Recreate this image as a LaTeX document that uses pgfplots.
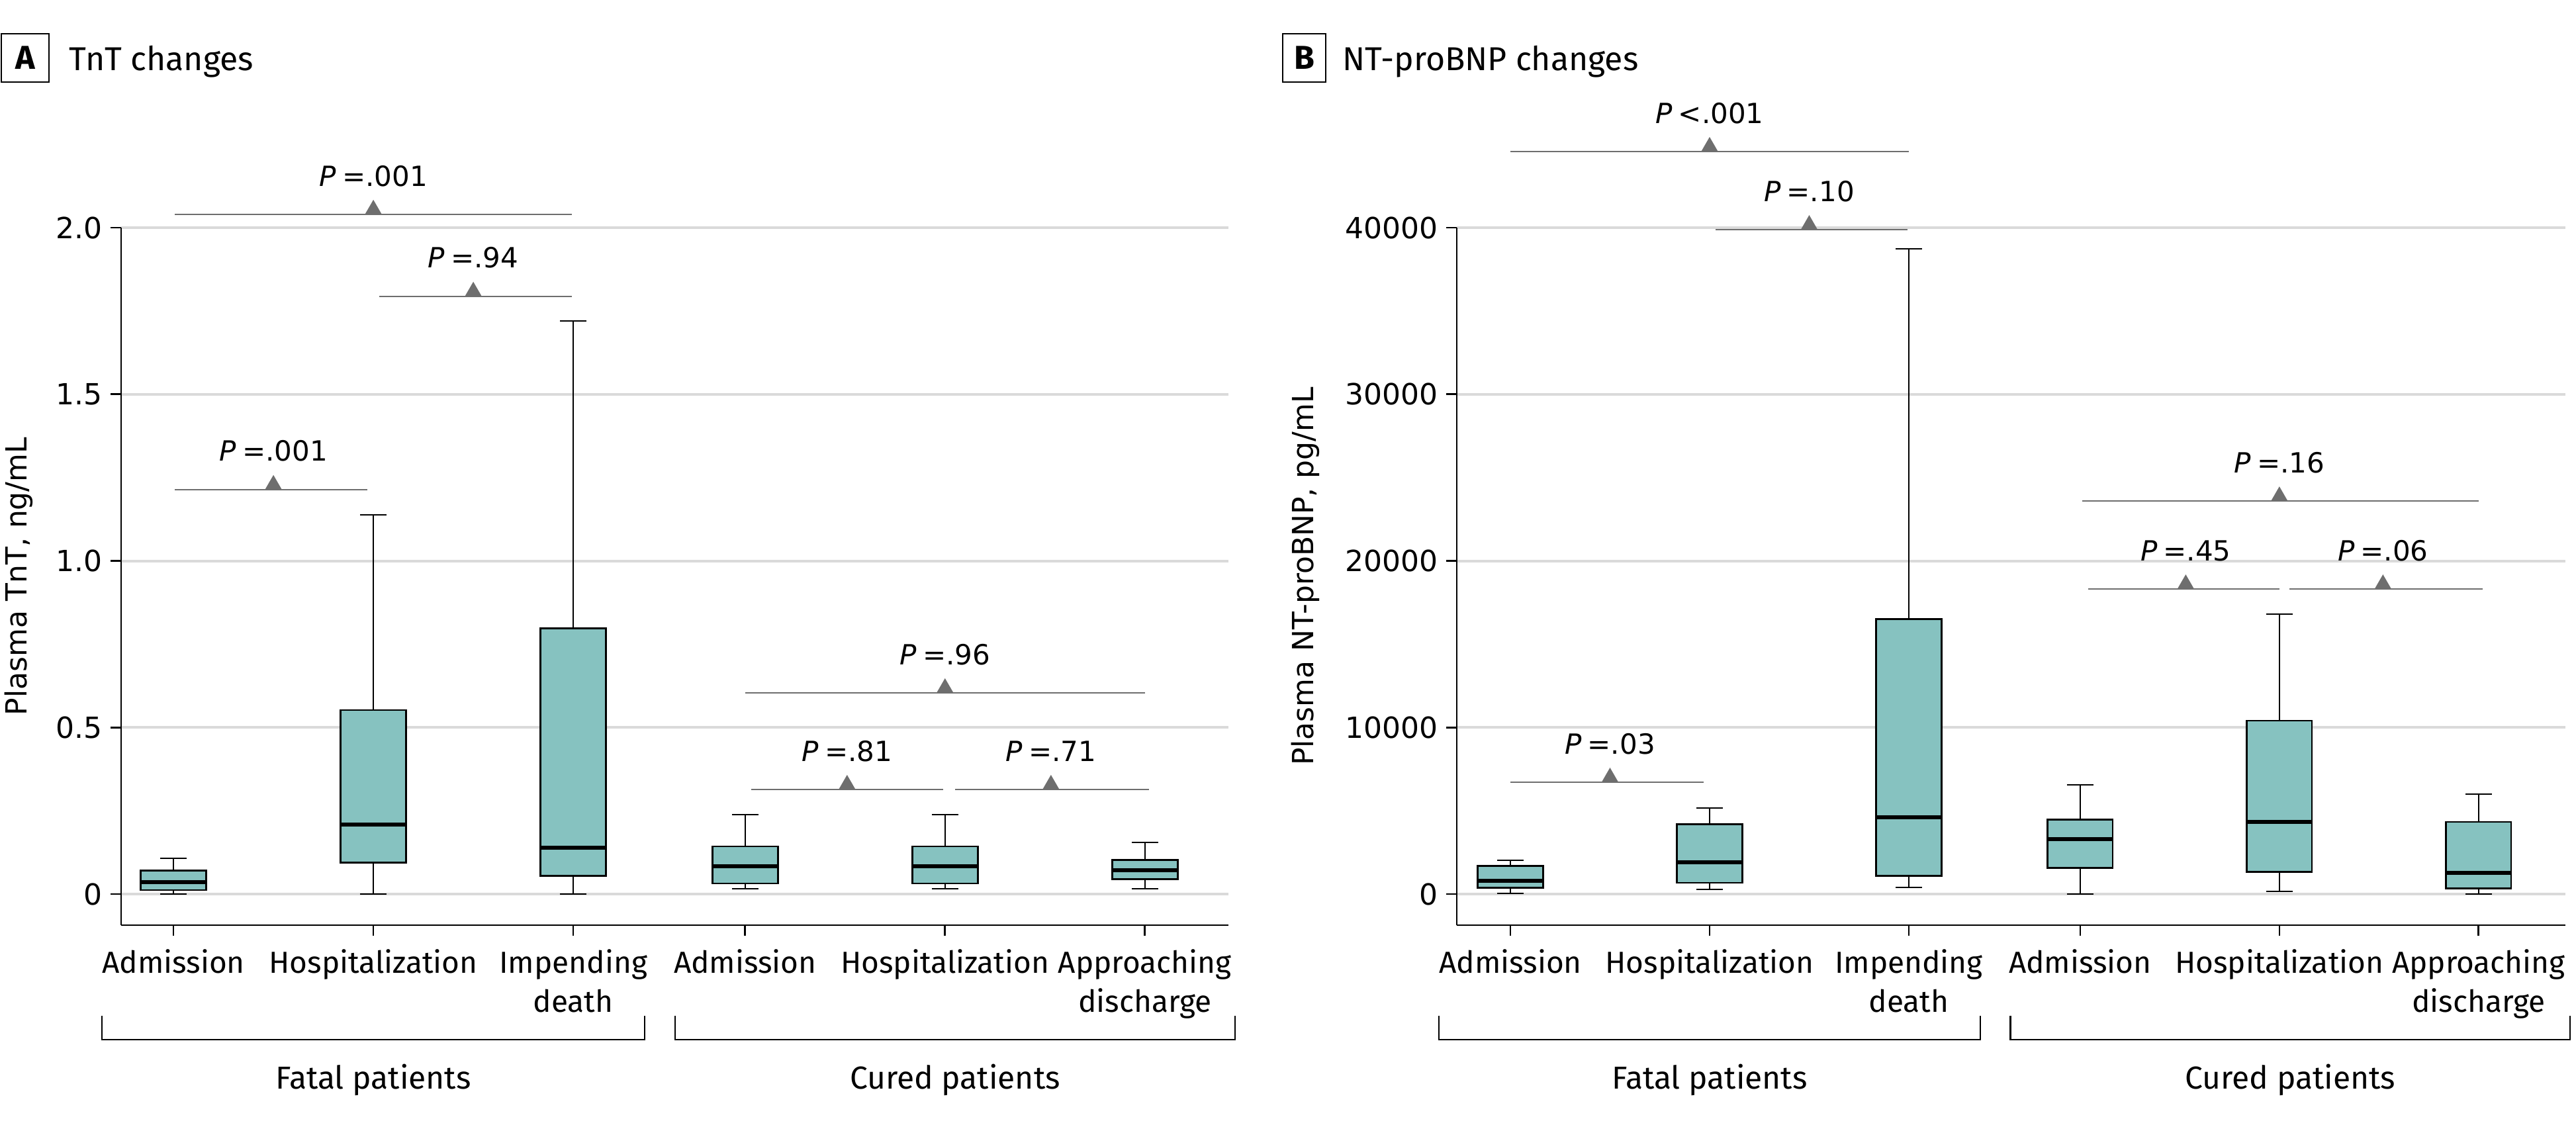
\documentclass[border=0pt]{standalone}
\usepackage{fontspec}
\setmainfont{Fira Sans}
\newfontfamily\dejavu{DejaVu Sans}
\usepackage{pgfplots}
\pgfplotsset{compat=1.18}
\usepgfplotslibrary{statistics}
\definecolor{tealbox}{HTML}{86C2C0}
\definecolor{anngray}{HTML}{6E6E6E}
\definecolor{gridgray}{HTML}{DADADA}

\pgfplotsset{
  mybox/.style={
    scale only axis, height=263.5pt,
    axis x line*=bottom, axis y line*=left,
    axis line style={line width=0.67pt, -},
    tick style={line width=0.67pt, black},
    tick align=outside, major tick length=4pt,
    ymajorgrids, major grid style={gridgray, line width=1pt},
    xtick={0,1,2,2.86,3.86,4.86},
    xticklabels={Admission, Hospitalization, {Impending\\death}, Admission, Hospitalization, {Approaching\\discharge}},
    xticklabel style={align=center, font=\fontsize{11.5}{14.6}\selectfont, inner sep=0pt, anchor=north, yshift=-5pt},
    yticklabel style={font=\dejavu\fontsize{11}{13}\selectfont, inner sep=0pt, anchor=east, xshift=-3pt},
    scaled y ticks=false,
    clip=false,
    boxplot/draw direction=y,
    boxplot/every box/.style={fill=tealbox, draw=black, line width=0.7pt},
    boxplot/every whisker/.style={black, line width=0.5pt},
    boxplot/every median/.style={black, line width=1.5pt},
  },
  bx/.style={boxplot prepared={#1, draw direction=y, box extend=0.327, whisker extend=0.132}, black, line width=0.5pt, solid},
  ann/.style={anngray, line width=0.5pt, no markers},
  tri/.style={only marks, mark=triangle*, mark size=3.4pt, mark options={anngray, fill=anngray, yshift=1.7pt}},
  grp/.style={black, line width=0.55pt, no markers},
}
\newcommand{\pv}[3]{\node[anchor=base, yshift=10.7pt, font=\dejavu\fontsize{10.5}{12}\selectfont, inner sep=0pt] at (axis cs:#1,#2) {\textit{P}\hspace{0.22em}#3};}

\begin{document}
\begin{tikzpicture}
\useasboundingbox (0,0) rectangle (973pt,-425pt);
% ---------- Panel A ----------
\draw[line width=0.5pt] (0.4pt,-12.7pt) rectangle (18.5pt,-31pt);
\node[font=\bfseries\fontsize{12.5}{14}\selectfont, inner sep=0pt] at (9.45pt,-21.85pt) {A};
\node[anchor=base west, font=\fontsize{12.5}{15}\selectfont, inner sep=0pt] at (26pt,-26.7pt) {TnT changes};
\node[rotate=90, font=\dejavu\fontsize{11}{13}\selectfont] at (7.1pt,-217.75pt) {Plasma TnT, ng/mL};
\begin{axis}[mybox, width=418.25pt, at={(45.75pt,-349.5pt)}, anchor=south west,
  xmin=-0.262, xmax=5.278, ymin=-0.0933, ymax=2.0,
  ytick={0,0.5,1,1.5,2}, yticklabels={0,0.5,1.0,1.5,2.0}]
\addplot[bx={draw position=0, lower whisker=0, lower quartile=0.012, median=0.035, upper quartile=0.071, upper whisker=0.107}] coordinates {};
\addplot[bx={draw position=1, lower whisker=0, lower quartile=0.095, median=0.208, upper quartile=0.552, upper whisker=1.138}] coordinates {};
\addplot[bx={draw position=2, lower whisker=0, lower quartile=0.055, median=0.139, upper quartile=0.798, upper whisker=1.72}] coordinates {};
\addplot[bx={draw position=2.86, lower whisker=0.015, lower quartile=0.032, median=0.083, upper quartile=0.143, upper whisker=0.238}] coordinates {};
\addplot[bx={draw position=3.86, lower whisker=0.015, lower quartile=0.032, median=0.083, upper quartile=0.143, upper whisker=0.238}] coordinates {};
\addplot[bx={draw position=4.86, lower whisker=0.015, lower quartile=0.044, median=0.072, upper quartile=0.103, upper whisker=0.155}] coordinates {};
% comparisons
\addplot[ann] coordinates {(0.007,2.04) (1.993,2.04)};
\addplot[tri] coordinates {(1.0,2.04)};
\pv{1.0}{2.04}{=.001}
\addplot[ann] coordinates {(1.03,1.794) (1.993,1.794)};
\addplot[tri] coordinates {(1.5,1.794)};
\pv{1.5}{1.794}{=.94}
\addplot[ann] coordinates {(0.007,1.214) (0.97,1.214)};
\addplot[tri] coordinates {(0.5,1.214)};
\pv{0.5}{1.214}{=.001}
\addplot[ann] coordinates {(2.86,0.604) (4.86,0.604)};
\addplot[tri] coordinates {(3.86,0.604)};
\pv{3.86}{0.604}{=.96}
\addplot[ann] coordinates {(2.89,0.314) (3.85,0.314)};
\addplot[tri] coordinates {(3.37,0.314)};
\pv{3.37}{0.314}{=.81}
\addplot[ann] coordinates {(3.91,0.314) (4.88,0.314)};
\addplot[tri] coordinates {(4.39,0.314)};
\pv{4.39}{0.314}{=.71}
% groups
\addplot[grp] coordinates {(-0.358,-0.365) (-0.358,-0.437) (2.358,-0.437) (2.358,-0.365)};
\addplot[grp] coordinates {(2.51,-0.365) (2.51,-0.437) (5.31,-0.437) (5.31,-0.365)};
\node[font=\fontsize{12}{14}\selectfont] at (axis cs:1.0,-0.558) {Fatal patients};
\node[font=\fontsize{12}{14}\selectfont] at (axis cs:3.91,-0.558) {Cured patients};
\end{axis}
% ---------- Panel B ----------
\draw[line width=0.5pt] (484.5pt,-12.7pt) rectangle (500.7pt,-31pt);
\node[font=\bfseries\fontsize{12.5}{14}\selectfont, inner sep=0pt] at (492.6pt,-21.85pt) {B};
\node[anchor=base west, font=\fontsize{12.5}{15}\selectfont, inner sep=0pt] at (507pt,-26.7pt) {NT-proBNP changes};
\node[rotate=90, font=\dejavu\fontsize{11}{13}\selectfont] at (493pt,-217.75pt) {Plasma NT-proBNP, pg/mL};
\begin{axis}[mybox, width=418.75pt, at={(550.25pt,-349.5pt)}, anchor=south west,
  xmin=-0.269, xmax=5.296, ymin=-1867, ymax=40000,
  ytick={0,10000,20000,30000,40000}, yticklabels={0,10000,20000,30000,40000}]
\addplot[bx={draw position=0, lower whisker=50, lower quartile=373, median=802, upper quartile=1688, upper whisker=2030}] coordinates {};
\addplot[bx={draw position=1, lower whisker=266, lower quartile=675, median=1902, upper quartile=4206, upper whisker=5175}] coordinates {};
\addplot[bx={draw position=2, lower whisker=397, lower quartile=1104, median=4592, upper quartile=16520, upper whisker=38720}] coordinates {};
\addplot[bx={draw position=2.86, lower whisker=0, lower quartile=1557, median=3281, upper quartile=4465, upper whisker=6574}] coordinates {};
\addplot[bx={draw position=3.86, lower whisker=159, lower quartile=1343, median=4313, upper quartile=10407, upper whisker=16800}] coordinates {};
\addplot[bx={draw position=4.86, lower whisker=0, lower quartile=353, median=1255, upper quartile=4334, upper whisker=6014}] coordinates {};
% comparisons
\addplot[ann] coordinates {(0.0,44570) (2.0,44570)};
\addplot[tri] coordinates {(1.0,44570)};
\pv{1.0}{44570}{<.001}
\addplot[ann] coordinates {(1.03,39880) (1.995,39880)};
\addplot[tri] coordinates {(1.5,39880)};
\pv{1.5}{39880}{=.10}
\addplot[ann] coordinates {(0.0,6713) (0.97,6713)};
\addplot[tri] coordinates {(0.5,6713)};
\pv{0.5}{6713}{=.03}
\addplot[ann] coordinates {(2.87,23590) (4.86,23590)};
\addplot[tri] coordinates {(3.86,23590)};
\pv{3.86}{23590}{=.16}
\addplot[ann] coordinates {(2.9,18310) (3.86,18310)};
\addplot[tri] coordinates {(3.39,18310)};
\pv{3.39}{18310}{=.45}
\addplot[ann] coordinates {(3.91,18310) (4.88,18310)};
\addplot[tri] coordinates {(4.38,18310)};
\pv{4.38}{18310}{=.06}
% groups
\addplot[grp] coordinates {(-0.36,-7300) (-0.36,-8740) (2.36,-8740) (2.36,-7300)};
\addplot[grp] coordinates {(2.51,-7300) (2.51,-8740) (5.32,-8740) (5.32,-7300)};
\node[font=\fontsize{12}{14}\selectfont] at (axis cs:1.0,-11160) {Fatal patients};
\node[font=\fontsize{12}{14}\selectfont] at (axis cs:3.915,-11160) {Cured patients};
\end{axis}
\end{tikzpicture}
\end{document}
